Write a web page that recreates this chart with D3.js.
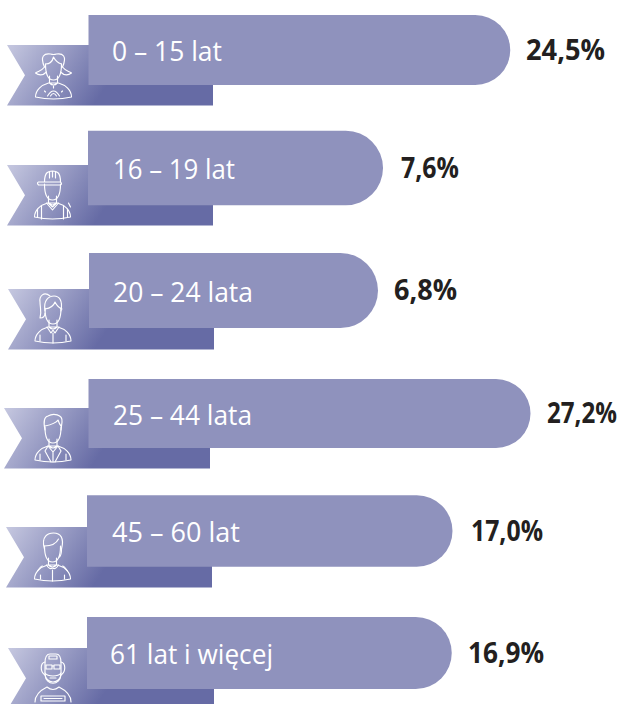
<!DOCTYPE html>
<html>
<head>
<meta charset="utf-8">
<script src="https://cdn.jsdelivr.net/npm/d3@7"></script>
<style>
  html, body { margin: 0; padding: 0; background: #fff; overflow: hidden; }
  svg { display: block; }
  .label { font-family: "Open Sans", sans-serif; font-size: 28px; fill: #fff; }
  .value { font-family: "Open Sans", sans-serif; font-size: 28px; font-weight: 700; fill: #231f20; }
  .icon path { fill: none; stroke: #fff; stroke-width: 1.15; stroke-linecap: round; stroke-linejoin: round; }
</style>
</head>
<body>
<div id="chart"></div>
<script>
// age groups and their share
var categories = ["0 – 15 lat", "16 – 19 lat", "20 – 24 lata", "25 – 44 lata", "45 – 60 lat", "61 lat i więcej"];
var values = [24.5, 7.6, 6.8, 27.2, 17.0, 16.9];

var width = 619, height = 704;

// the rows in the original are hand placed, so the scales are ordinal
var rowY = d3.scaleOrdinal().domain(categories).range([50, 168, 290.5, 413.5, 531, 653]);
var rowH = d3.scaleOrdinal().domain(categories).range([70, 74.5, 75, 69, 71.5, 72]);
var rowX = d3.scaleOrdinal().domain(categories).range([88.5, 88, 89, 88.5, 87, 87]);
var ribbonX = d3.scaleOrdinal().domain(categories).range([7, 7, 8, 4, 6, 8]);
var ribbonY = d3.scaleOrdinal().domain(categories).range([45, 165, 289, 408, 527, 648]);
var iconKind = d3.scaleOrdinal().domain(categories).range(["girl", "worker", "woman", "man", "lady", "senior"]);

// the font here is wider than the original one, so text is fitted to the measured widths
var labelX = d3.scaleOrdinal().domain(categories).range([112, 113, 113, 113, 112, 110]);
var labelW = d3.scaleOrdinal().domain(categories).range([110, 122, 140, 139, 128, 163]);
var valueX = d3.scaleOrdinal().domain(categories).range([526, 401, 394, 547, 471, 468]);
var valueW = d3.scaleOrdinal().domain(categories).range([79, 58, 63, 70, 72, 76]);

// bars do not start at zero, there is a long stub under the label
var x = d3.scaleLinear().domain([0, 27.2]).range([238, 442]);

var formatValue = function(v) { return v.toFixed(1).replace(".", ",") + "%"; };

var svg = d3.select("#chart").append("svg")
    .attr("width", width)
    .attr("height", height);

var defs = svg.append("defs");
var ribbonW = 206, ribbonH = 60.5, notch = 18;

// one gradient per ribbon
categories.forEach(function(c, i) {
    var g = defs.append("linearGradient")
        .attr("id", "rib" + i)
        .attr("gradientUnits", "userSpaceOnUse")
        .attr("x1", ribbonX(c)).attr("y1", ribbonY(c))
        .attr("x2", ribbonX(c) + 88).attr("y2", ribbonY(c) + 58);
    g.append("stop").attr("offset", 0).attr("stop-color", "#c6c8e0");
    g.append("stop").attr("offset", 1).attr("stop-color", "#666ba5");
});

var row = svg.selectAll(".row")
    .data(categories.map(function(c, i) { return { cat: c, val: values[i], i: i }; }))
    .enter().append("g")
    .attr("class", "row");

// ribbon behind the bar
row.append("path")
    .attr("d", function(d) {
        var l = ribbonX(d.cat), t = ribbonY(d.cat);
        var p = d3.path();
        p.moveTo(l, t);
        p.lineTo(l + ribbonW, t);
        p.lineTo(l + ribbonW, t + ribbonH);
        p.lineTo(l, t + ribbonH);
        p.lineTo(l + notch, t + ribbonH / 2);
        p.closePath();
        return p.toString();
    })
    .attr("fill", function(d) { return "url(#rib" + d.i + ")"; });

// bar with a rounded right end
row.append("path")
    .attr("d", function(d) {
        var l = rowX(d.cat), h = rowH(d.cat), t = rowY(d.cat) - h / 2, r = l + x(d.val), rad = h / 2;
        var p = d3.path();
        p.moveTo(l, t);
        p.lineTo(r - rad, t);
        p.arc(r - rad, t + rad, rad, -Math.PI / 2, Math.PI / 2);
        p.lineTo(l, t + h);
        p.closePath();
        return p.toString();
    })
    .attr("fill", "#8f92bd");

row.append("text")
    .attr("class", "label")
    .attr("x", function(d) { return labelX(d.cat); })
    .attr("y", function(d) { return rowY(d.cat) + 11; })
    .attr("textLength", function(d) { return labelW(d.cat); })
    .attr("lengthAdjust", "spacingAndGlyphs")
    .text(function(d) { return d.cat; });

row.append("text")
    .attr("class", "value")
    .attr("x", function(d) { return valueX(d.cat); })
    .attr("y", function(d) { return rowY(d.cat) + 9.5; })
    .attr("textLength", function(d) { return valueW(d.cat); })
    .attr("lengthAdjust", "spacingAndGlyphs")
    .text(function(d) { return formatValue(d.val); });

// little line drawn people, local box is about 36 x 46
var bust = "M-18,44 C-18,37 -12,32 -5,30 L5,30 C12,32 18,37 18,44 Q0,48 -18,44 Z M-4,23 V30 Q0,34 4,30 V23";
var face = "M-8,11 C-8,25 -3,27 0,27 C3,27 8,25 8,11";
var iconPaths = {
    girl: [face, bust,
        "M-9,14 C-14,3 -9,0 -3,1 Q0,2 3,1 C9,0 14,3 9,14 M-8,11 C-3,11 -1,8 0,4 C2,8 5,10 8,11",
        "M-9,14 C-12,18 -15,18 -18,20 C-14,23 -10,22 -7,19 M9,14 C12,18 15,18 18,20 C14,23 10,22 7,19",
        "M-6,43 Q0,33 6,43 M-3,43 Q0,38 3,43 M-9,38 L-8,39 M9,38 L8,39 M0,33 V35"],
    worker: [face, bust,
        "M-8,9 C-8,-1 -4,-2 0,-2 C4,-2 8,-1 8,9 M-14,9 H8 Q10,11 8,12 H-14 Q-16,10 -14,9 Z M0,-2 V4 M-3,-1 V5 M3,-1 V5",
        "M-6,30 L0,37 L6,30 M-4,30 L0,34 L4,30 M-11,33 V46 M11,33 V46 M-15,36 V44 M15,36 V44 M16,30 L18,34"],
    woman: [face, bust,
        "M-8,14 C-10,3 -4,-1 1,-1 C6,-1 10,3 8,14 M-8,12 C-2,11 1,8 2,5 C4,9 6,11 9,12",
        "M-3,-1 C-9,-6 -14,-1 -13,5 C-13,11 -11,15 -13,21 C-9,21 -8,19 -8,16",
        "M-6,30 L-2,36 L0,33 L2,36 L6,30 M0,36 V46 M-13,38 V44 M13,38 V44"],
    man: [face, bust,
        "M-8,14 C-10,5 -9,1 -5,0 C0,-3 10,-2 9,6 L8,14 M-8,10 C-3,9 3,7 5,4 C6,7 7,9 8,10",
        "M-5,30 L0,36 L5,30 L8,35 L2,46 M-5,30 L-8,35 L-2,46 M0,36 V46 M-13,38 V44 M13,38 V44"],
    lady: [face, bust,
        "M-8,14 C-12,1 -4,-2 1,-2 C8,-2 12,3 9,14 C9,19 8,21 7,22 M-8,11 C-1,11 4,8 6,4",
        "M-6,30 Q-3,35 0,33 Q3,35 6,30 M0,35 V46 M-15,36 C-13,33 -11,31 -10,31 M15,36 C13,33 11,31 10,31 M-12,40 V44 M12,40 V44"],
    senior: ["M-8,8 C-8,-1 -4,-1 -3,-1 H3 C4,-1 8,-1 8,8 M-8,8 V18 C-8,30 8,30 8,18 V8 M-4,1 H4 V4 H-4 Z",
        "M-8,7 C-13,8 -13,17 -8,20 M8,7 C13,8 13,17 8,20",
        "M-7,10 H-1 V14 H-7 Z M1,10 H7 V14 H1 Z M-1,11 H1",
        "M-8,18 C-5,22 5,22 8,18 M-3,23 H3 M-8,20 C-7,31 7,31 8,20",
        "M-18,47 C-18,39 -12,35 -6,32 Q0,37 6,32 C12,35 18,39 18,47 M-12,41 H12 V46 H-12 Z M-9,43.5 H9"]
};
var iconCenter = d3.scaleOrdinal().domain(categories).range([53.5, 52.5, 53, 53, 52.5, 53]);
var iconTop = d3.scaleOrdinal().domain(categories).range([53, 173, 297, 416, 535, 655]);

row.append("g")
    .attr("class", "icon")
    .attr("transform", function(d) { return "translate(" + iconCenter(d.cat) + "," + iconTop(d.cat) + ")"; })
    .selectAll("path")
    .data(function(d) { return iconPaths[iconKind(d.cat)]; })
    .enter().append("path")
    .attr("d", function(d) { return d; });
</script>
</body>
</html>
